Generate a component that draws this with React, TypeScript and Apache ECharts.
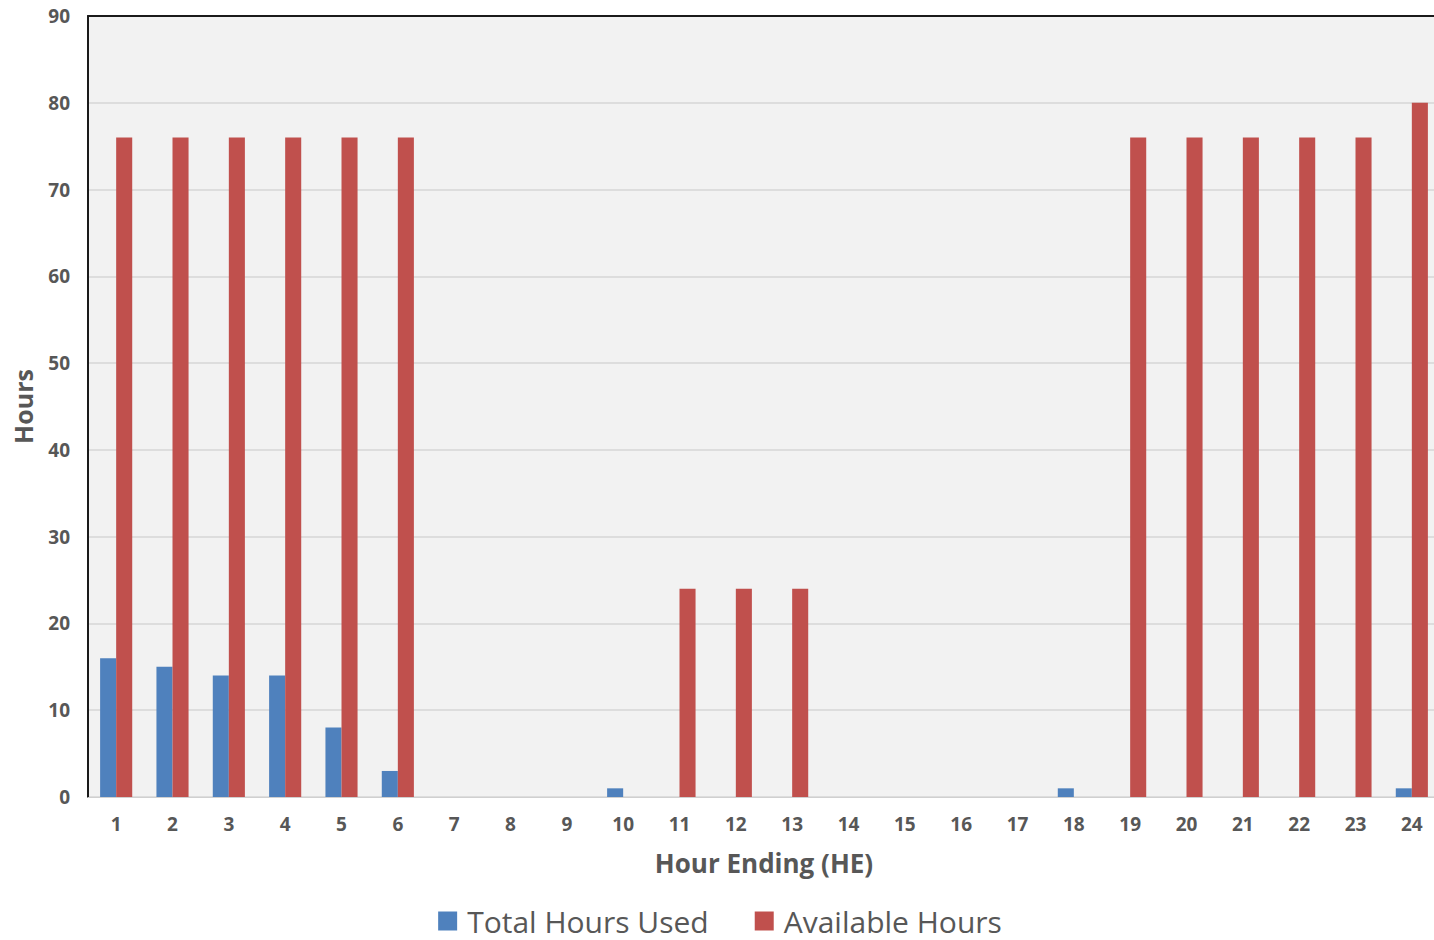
import React, { useEffect, useRef } from "react";
import * as echarts from "echarts";

const categories = ["1","2","3","4","5","6","7","8","9","10","11","12","13","14","15","16","17","18","19","20","21","22","23","24"];
const totalHoursUsed = [16,15,14,14,8,3,0,0,0,1,0,0,0,0,0,0,0,1,0,0,0,0,0,1];
const availableHours = [76,76,76,76,76,76,0,0,0,0,24,24,24,0,0,0,0,0,76,76,76,76,76,80];

const FONT = "'Open Sans', 'Noto Sans', sans-serif";
const TXT = "#575757";

export default function App() {
  const ref = useRef<HTMLDivElement>(null);
  useEffect(() => {
    if (!ref.current) return;
    const chart = echarts.init(ref.current, null, { renderer: "svg" });
    chart.setOption({
      animation: false,
      textStyle: { fontFamily: FONT },
      grid: {
        left: 88, top: 16, right: 0, bottom: 143,
        show: true, backgroundColor: "#f2f2f2", borderWidth: 0,
      },
      legend: {
        left: "center", top: 901,
        itemWidth: 19, itemHeight: 19, itemGap: 46,
        icon: "rect",
        textStyle: { fontSize: 30, color: TXT, fontFamily: FONT, padding: [0, 0, 0, 5] },
        data: ["Total Hours Used", "Available Hours"],
      },
      xAxis: [
        {
          type: "category",
          data: categories,
          name: "Hour Ending (HE)",
          nameLocation: "middle",
          nameGap: 53,
          nameTextStyle: { fontSize: 26, fontWeight: "bold", color: TXT, fontFamily: FONT },
          axisLine: { show: true, lineStyle: { color: "#d0d0d0", width: 1 } },
          axisTick: { show: false },
          axisLabel: { fontSize: 19, fontWeight: "bold", color: TXT, margin: 17, fontFamily: FONT },
        },
        {
          type: "category",
          data: categories,
          position: "top",
          axisLine: { show: true, lineStyle: { color: "#1a1a1a", width: 2 } },
          axisTick: { show: false },
          axisLabel: { show: false },
        },
      ],
      yAxis: {
        type: "value",
        min: 0, max: 90, interval: 10,
        name: "Hours",
        nameLocation: "middle",
        nameGap: 53,
        nameTextStyle: { fontSize: 25, fontWeight: "bold", color: TXT, fontFamily: FONT },
        axisLine: { show: true, lineStyle: { color: "#1a1a1a", width: 2 } },
        axisTick: { show: false },
        axisLabel: { fontSize: 19, fontWeight: "bold", color: TXT, margin: 18, fontFamily: FONT },
        splitLine: { show: true, lineStyle: { color: "#d6d6d6", width: 1.5 } },
      },
      series: [
        {
          name: "Total Hours Used",
          type: "bar",
          data: totalHoursUsed,
          barGap: "0%",
          barCategoryGap: "43%",
          itemStyle: { color: "#4f81bd" },
        },
        {
          name: "Available Hours",
          type: "bar",
          data: availableHours,
          barGap: "0%",
          barCategoryGap: "43%",
          itemStyle: { color: "#c0504d" },
        },
      ],
    });
    return () => chart.dispose();
  }, []);
  return (
    <div style={{ position: "fixed", left: 0, top: 0, width: 1434, height: 940, overflow: "hidden", background: "#fff" }}>
      <div ref={ref} style={{ width: 1440, height: 940 }} />
    </div>
  );
}
